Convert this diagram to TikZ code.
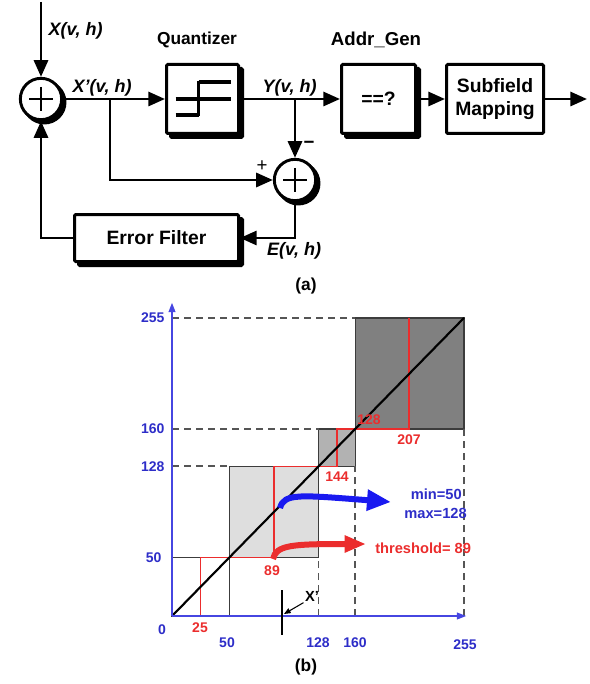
\documentclass[tikz,border=0pt]{standalone}
\usepackage{fontspec}
\setmainfont{Liberation Sans}
\usetikzlibrary{arrows.meta,shadows}
\definecolor{axblue}{RGB}{70,70,225}
\definecolor{arrblue}{RGB}{25,25,240}
\definecolor{txtblue}{RGB}{45,45,200}
\definecolor{pred}{RGB}{235,45,45}
\definecolor{g1}{RGB}{222,222,222}
\definecolor{g2}{RGB}{178,178,178}
\definecolor{g3}{RGB}{128,128,128}
\definecolor{edgeg}{RGB}{60,60,60}
\definecolor{dashg}{RGB}{85,85,85}
\tikzset{
  box/.style={draw=black, fill=white, line width=2.25pt, rounded corners=1pt, inner sep=0pt,
    align=center, font=\fontsize{14.5}{17}\selectfont\bfseries,
    copy shadow={shadow xshift=3pt, shadow yshift=-3pt, fill=black, draw=black}},
  plainbox/.style={draw=black, fill=white, line width=2.25pt, rounded corners=1pt, inner sep=0pt,
    align=center, font=\fontsize{14.5}{17}\selectfont\bfseries},
  sumc/.style={circle, draw=black, fill=white, line width=2.2pt, minimum size=31pt, inner sep=0pt,
    copy shadow={shadow xshift=2.5pt, shadow yshift=-2.5pt, fill=black, draw=black}},
  conn/.style={line width=2.2pt, -{Triangle[length=12.5pt,width=10.5pt]}},
  wire/.style={line width=2.2pt},
  sig/.style={font=\fontsize{13.5}{16}\selectfont\bfseries\itshape},
  ttl/.style={font=\fontsize{13}{15}\selectfont\bfseries},
  ticklab/.style={font=\fontsize{10.5}{12}\selectfont\bfseries, text=txtblue, inner sep=1pt},
  rlab/.style={font=\fontsize{10.5}{12}\selectfont\bfseries, text=pred, inner sep=1pt},
  dsh/.style={draw=dashg, line width=1.4pt, dash pattern=on 5.5pt off 3.5pt},
  boxedge/.style={draw=edgeg, line width=1pt},
}
\begin{document}
\begin{tikzpicture}[x=0.75pt,y=-0.75pt]
\useasboundingbox (0,0) rectangle (589,684);
% ---------------- part (a)
\node[sumc] (s1) at (41,99) {};
\draw[wire] (s1.center) ++(-12,0) -- ++(24,0) (s1.center) ++(0,-12) -- ++(0,24);
\node[box, minimum width=54pt, minimum height=51.75pt] (q) at (202.5,99) {};
\draw[wire, line width=2.4pt] (q.center) ++(-4,-17) -- ++(32,0)
  (q.center) ++(-27,0) -- ++(55,0)
  (q.center) ++(-27,16) -- ++(23,0)
  (q.center) ++(-4,-18.2) -- ++(0,35.4);
\node[box, minimum width=55.5pt, minimum height=51.75pt] (a) at (378.5,99) {==?};
\node[plainbox, minimum width=72.75pt, minimum height=51.75pt] (m) at (495,99) {Subfield\\Mapping};
\node[sumc] (s2) at (295,180) {};
\draw[wire] (s2.center) ++(-12,0) -- ++(24,0) (s2.center) ++(0,-12) -- ++(0,24);
\node[box, minimum width=123pt, minimum height=35.25pt] (ef) at (156.5,238) {Error Filter};
\coordinate (xin) at (41,2);
\coordinate (out) at (587,99);
\coordinate (b1) at (110,99);
\coordinate (b2) at (295,99);
\draw[conn] (xin) -- (s1);
\draw[conn] (s1) -- (q);
\draw[conn] (q) -- (a);
\draw[conn] (a) -- (m);
\draw[conn] (m) -- (out);
\draw[conn] (b1) |- (s2);
\draw[conn] (b2) -- (s2);
\draw[conn] (s2) |- (ef);
\draw[conn] (ef) -| (s1);
\node[sig, anchor=west] (lx) at (44,31) {X(v, h)};
\node[sig, anchor=west] (lxp) at (68,88) {X’(v, h)};
\node[sig, anchor=west] (ly) at (258,88) {Y(v, h)};
\node[sig] (le) at (294,251) {E(v, h)};
\node[ttl] (tq) at (197,40) {Quantizer};
\node[ttl, font=\fontsize{14}{16}\selectfont\bfseries] (ta) at (376,40) {Addr\_Gen};
\node[font=\fontsize{14}{16}\selectfont] (pl) at (262,166) {+};
\node[font=\fontsize{14}{16}\selectfont\bfseries] (mi) at (309,145) {\textminus};
\node[font=\fontsize{13}{15}\selectfont\bfseries] (ca) at (306,286) {(a)};
% ---------------- part (b)
\begin{scope}[shift={(172,616)}, x=0.85875pt, y=0.87675pt]
  \fill[g1] (50,50) rectangle (128,128);
  \fill[g2] (128,128) rectangle (160,160);
  \fill[g3] (160,160) rectangle (255,255);
  \draw[boxedge] (0,0) rectangle (50,50);
  \draw[boxedge] (50,50) rectangle (128,128);
  \draw[boxedge] (128,128) rectangle (160,160);
  \draw[boxedge] (160,160) rectangle (255,255);
  \draw[dsh] (0,255) -- (160,255);
  \draw[dsh] (0,160) -- (128,160);
  \draw[dsh] (0,128) -- (50,128);
  \draw[dsh] (128,0) -- (128,50);
  \draw[dsh] (160,0) -- (160,128);
  \draw[dsh] (255,0) -- (255,160);
  \draw[pred, line width=1pt] (25,0) -- (25,50) -- (89,50) -- (89,128) -- (144,128) -- (144,160) -- (207,160) -- (207,255);
  \draw[black, line width=1.6pt] (0,0) -- (255,255);
  \draw[axblue, line width=1.3pt, -{Triangle[length=7pt,width=5pt]}] (0,0) -- (0,268);
  \draw[axblue, line width=1.3pt, -{Triangle[length=7pt,width=5pt]}] (0,0) -- (257,0);
  \coordinate (o) at (0,0);
\end{scope}
\node[ticklab, anchor=east] (y255) at (166,318) {255};
\node[ticklab, anchor=east] (y160) at (166,429) {160};
\node[ticklab, anchor=east] (y128) at (166,467) {128};
\node[ticklab, anchor=east] (y50) at (163,558) {50};
\node[ticklab] (x0) at (162,630) {0};
\node[ticklab] (x50) at (227,643) {50};
\node[ticklab] (x128) at (318,643) {128};
\node[ticklab] (x160) at (355,643) {160};
\node[ticklab] (x255) at (465,645) {255};
\node[rlab] (r25) at (200,628) {25};
\node[rlab] (r89) at (272,571) {89};
\node[rlab] (r144) at (337,477) {144};
\node[rlab] (r128) at (369,420) {128};
\node[rlab] (r207) at (409,440) {207};
% curved arrows
\coordinate (bs) at (280,508);
\coordinate (be) at (391,502);
\draw[arrblue, line width=4.5pt, -{Triangle[length=18pt,width=15pt]}] (bs) .. controls (284,493) and (300,495) .. (be);
\coordinate (rs) at (273,559);
\coordinate (re) at (366,544);
\draw[pred, line width=4.5pt, -{Triangle[length=16pt,width=12pt]}] (rs) .. controls (276,545) and (292,544) .. (re);
\node[font=\fontsize{11}{13}\selectfont\bfseries, text=txtblue, anchor=east, inner sep=0pt] (tmin) at (462,494) {min=50};
\node[font=\fontsize{11}{13}\selectfont\bfseries, text=txtblue, anchor=east, inner sep=0pt] (tmax) at (467,513) {max=128};
\node[font=\fontsize{11}{13}\selectfont\bfseries, text=pred, anchor=west, inner sep=0pt] (tth) at (375,548) {threshold= 89};
% X' marker
\coordinate (xt) at (282,590);
\coordinate (xb) at (282,635);
\draw[black, line width=2.2pt] (xt) -- (xb);
\node[font=\fontsize{11}{13}\selectfont\bfseries, inner sep=1pt] (xl) at (312,596) {X’};
\coordinate (xa) at (284,614);
\draw[black, line width=0.8pt, -{Triangle[length=5pt,width=4pt]}] (xl.south west) -- (xa);
\node[font=\fontsize{13}{15}\selectfont\bfseries] (cb) at (306,667) {(b)};
\end{tikzpicture}
\end{document}
